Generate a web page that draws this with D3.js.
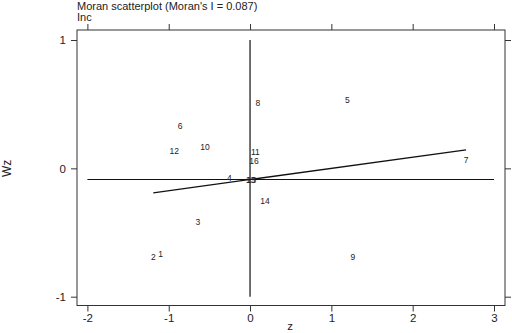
<!DOCTYPE html>
<html>
<head>
<meta charset="utf-8">
<script src="https://cdn.jsdelivr.net/npm/d3@7"></script>
<style>
html,body{margin:0;padding:0;background:#fff;}
svg{display:block;font-family:"Liberation Sans",Arial,sans-serif;}
</style>
</head>
<body>
<div id="chart"></div>
<script>
// Moran scatterplot — region labels placed at (z, Wz)
const regionIds = ["1","2","3","4","5","6","7","8","9","10","11","12","13","14","15","16"];
const zValues   = [-1.10,-1.19,-0.643,-0.254,1.197,-0.861,2.657,0.095,1.263,-0.554,0.065,-0.931,0.006,0.184,0.018,0.049];
const wzValues  = [-0.667,-0.688,-0.42,-0.075,0.535,0.327,0.068,0.509,-0.688,0.167,0.128,0.138,-0.088,-0.257,-0.092,0.055];
const xTicks = [-2,-1,0,1,2,3];
const yTicks = [-1,0,1];
const moranI = 0.087;
const wzMean = -0.087;

const W = 512, H = 333;
const svg = d3.select("#chart").append("svg").attr("width", W).attr("height", H);

const box = {l: 77, r: 505, t: 30, b: 305.5};
const x = d3.scaleLinear().domain([-2, 3]).range([87.4, 494]);
const y = d3.scaleLinear().domain([-1, 1]).range([296.7, 40]);
const fmt = d => String(d); // plain hyphen minus like the original

// frame
svg.append("rect").attr("x", box.l).attr("y", box.t)
  .attr("width", box.r - box.l).attr("height", box.b - box.t)
  .attr("fill", "none").attr("stroke", "#333").attr("stroke-width", 1);

const tickStyle = g => {
  g.select(".domain").remove();
  g.selectAll(".tick line").attr("stroke", "#333");
  g.selectAll(".tick text").attr("fill", "#222").style("font-family", "Liberation Sans, Arial, sans-serif").style("font-size", "11.5px");
};

svg.append("g").attr("transform", `translate(0,${box.b})`)
  .call(d3.axisBottom(x).tickValues(xTicks).tickSize(6).tickPadding(2).tickFormat(fmt))
  .call(tickStyle);
svg.append("g").attr("transform", `translate(0,${box.t})`)
  .call(d3.axisTop(x).tickValues(xTicks).tickSize(6).tickFormat(""))
  .call(tickStyle);
svg.append("g").attr("transform", `translate(${box.l},0)`)
  .call(d3.axisLeft(y).tickValues(yTicks).tickSize(6).tickPadding(5).tickFormat(fmt))
  .call(tickStyle);
svg.append("g").attr("transform", `translate(${box.r},0)`)
  .call(d3.axisRight(y).tickValues(yTicks).tickSize(6).tickFormat(""))
  .call(tickStyle);

// reference lines
svg.append("line")
  .attr("x1", x(-2)).attr("x2", x(3)).attr("y1", y(wzMean)).attr("y2", y(wzMean))
  .attr("stroke", "#111").attr("stroke-width", 1.2);
svg.append("line")
  .attr("x1", x(0)).attr("x2", x(0)).attr("y1", y(1)).attr("y2", y(-1))
  .attr("stroke", "#111").attr("stroke-width", 1.2);

// regression line over z range
const zMin = d3.min(zValues), zMax = d3.max(zValues);
svg.append("line")
  .attr("x1", x(zMin)).attr("y1", y(wzMean + moranI * zMin))
  .attr("x2", x(zMax)).attr("y2", y(wzMean + moranI * zMax))
  .attr("stroke", "#111").attr("stroke-width", 1.3);

// point labels
svg.append("g").selectAll("text").data(regionIds).join("text")
  .attr("x", (d, i) => x(zValues[i])).attr("y", (d, i) => y(wzValues[i]))
  .attr("text-anchor", "middle").attr("dy", "0.35em")
  .style("font-size", "8.5px").attr("fill", "#222")
  .text(d => d);

// titles
svg.append("text").attr("x", 77).attr("y", 10)
  .style("font-size", "11px").attr("fill", "#222")
  .text("Moran scatterplot (Moran's I = 0.087)");
svg.append("text").attr("x", 77).attr("y", 21)
  .style("font-size", "11px").attr("fill", "#222").text("Inc");
svg.append("text").attr("x", 290).attr("y", 329.5).attr("text-anchor", "middle")
  .style("font-size", "11.5px").attr("fill", "#222").text("z");
svg.append("text").attr("transform", `translate(11,${y(0)}) rotate(-90)`)
  .attr("text-anchor", "middle")
  .style("font-size", "12px").attr("fill", "#222").text("Wz");
</script>
</body>
</html>
